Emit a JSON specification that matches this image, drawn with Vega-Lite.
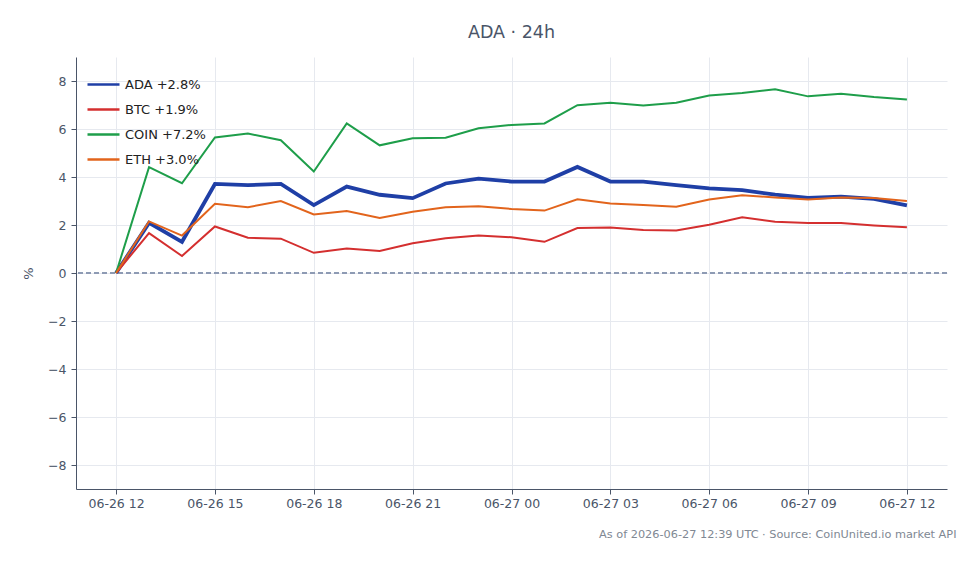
{
  "$schema": "https://vega.github.io/schema/vega-lite/v6.json",
  "autosize": {"type": "fit", "contains": "padding"},
  "width": 980,
  "height": 564,
  "padding": {"left": 22, "top": 23, "right": 32, "bottom": 24},
  "config": {
    "font": "DejaVu Sans",
    "view": {"stroke": null},
    "axis": {"grid": true, "gridColor": "#e6e9ef"}
  },
  "title": {
    "text": "ADA · 24h",
    "anchor": "middle",
    "fontSize": 17.5,
    "fontWeight": "normal",
    "color": "#4a5568",
    "offset": 16
  },
  "data": {"values": [
      {"t": "2026-06-26T12:00:00Z", "s": "ADA +2.8%", "v": 0},
      {"t": "2026-06-26T13:00:00Z", "s": "ADA +2.8%", "v": 2.09},
      {"t": "2026-06-26T14:00:00Z", "s": "ADA +2.8%", "v": 1.3},
      {"t": "2026-06-26T15:00:00Z", "s": "ADA +2.8%", "v": 3.71},
      {"t": "2026-06-26T16:00:00Z", "s": "ADA +2.8%", "v": 3.66},
      {"t": "2026-06-26T17:00:00Z", "s": "ADA +2.8%", "v": 3.71},
      {"t": "2026-06-26T18:00:00Z", "s": "ADA +2.8%", "v": 2.83},
      {"t": "2026-06-26T19:00:00Z", "s": "ADA +2.8%", "v": 3.6},
      {"t": "2026-06-26T20:00:00Z", "s": "ADA +2.8%", "v": 3.26},
      {"t": "2026-06-26T21:00:00Z", "s": "ADA +2.8%", "v": 3.12},
      {"t": "2026-06-26T22:00:00Z", "s": "ADA +2.8%", "v": 3.73},
      {"t": "2026-06-26T23:00:00Z", "s": "ADA +2.8%", "v": 3.93},
      {"t": "2026-06-27T00:00:00Z", "s": "ADA +2.8%", "v": 3.81},
      {"t": "2026-06-27T01:00:00Z", "s": "ADA +2.8%", "v": 3.81},
      {"t": "2026-06-27T02:00:00Z", "s": "ADA +2.8%", "v": 4.42},
      {"t": "2026-06-27T03:00:00Z", "s": "ADA +2.8%", "v": 3.81},
      {"t": "2026-06-27T04:00:00Z", "s": "ADA +2.8%", "v": 3.81},
      {"t": "2026-06-27T05:00:00Z", "s": "ADA +2.8%", "v": 3.66},
      {"t": "2026-06-27T06:00:00Z", "s": "ADA +2.8%", "v": 3.53},
      {"t": "2026-06-27T07:00:00Z", "s": "ADA +2.8%", "v": 3.45},
      {"t": "2026-06-27T08:00:00Z", "s": "ADA +2.8%", "v": 3.27},
      {"t": "2026-06-27T09:00:00Z", "s": "ADA +2.8%", "v": 3.13},
      {"t": "2026-06-27T10:00:00Z", "s": "ADA +2.8%", "v": 3.18},
      {"t": "2026-06-27T11:00:00Z", "s": "ADA +2.8%", "v": 3.09},
      {"t": "2026-06-27T12:00:00Z", "s": "ADA +2.8%", "v": 2.82},
      {"t": "2026-06-26T12:00:00Z", "s": "BTC +1.9%", "v": 0},
      {"t": "2026-06-26T13:00:00Z", "s": "BTC +1.9%", "v": 1.66},
      {"t": "2026-06-26T14:00:00Z", "s": "BTC +1.9%", "v": 0.71},
      {"t": "2026-06-26T15:00:00Z", "s": "BTC +1.9%", "v": 1.94},
      {"t": "2026-06-26T16:00:00Z", "s": "BTC +1.9%", "v": 1.47},
      {"t": "2026-06-26T17:00:00Z", "s": "BTC +1.9%", "v": 1.43},
      {"t": "2026-06-26T18:00:00Z", "s": "BTC +1.9%", "v": 0.84},
      {"t": "2026-06-26T19:00:00Z", "s": "BTC +1.9%", "v": 1.02},
      {"t": "2026-06-26T20:00:00Z", "s": "BTC +1.9%", "v": 0.92},
      {"t": "2026-06-26T21:00:00Z", "s": "BTC +1.9%", "v": 1.24},
      {"t": "2026-06-26T22:00:00Z", "s": "BTC +1.9%", "v": 1.45},
      {"t": "2026-06-26T23:00:00Z", "s": "BTC +1.9%", "v": 1.56},
      {"t": "2026-06-27T00:00:00Z", "s": "BTC +1.9%", "v": 1.49},
      {"t": "2026-06-27T01:00:00Z", "s": "BTC +1.9%", "v": 1.3},
      {"t": "2026-06-27T02:00:00Z", "s": "BTC +1.9%", "v": 1.87},
      {"t": "2026-06-27T03:00:00Z", "s": "BTC +1.9%", "v": 1.9},
      {"t": "2026-06-27T04:00:00Z", "s": "BTC +1.9%", "v": 1.79},
      {"t": "2026-06-27T05:00:00Z", "s": "BTC +1.9%", "v": 1.77},
      {"t": "2026-06-27T06:00:00Z", "s": "BTC +1.9%", "v": 2.01},
      {"t": "2026-06-27T07:00:00Z", "s": "BTC +1.9%", "v": 2.32},
      {"t": "2026-06-27T08:00:00Z", "s": "BTC +1.9%", "v": 2.14},
      {"t": "2026-06-27T09:00:00Z", "s": "BTC +1.9%", "v": 2.08},
      {"t": "2026-06-27T10:00:00Z", "s": "BTC +1.9%", "v": 2.08},
      {"t": "2026-06-27T11:00:00Z", "s": "BTC +1.9%", "v": 1.98},
      {"t": "2026-06-27T12:00:00Z", "s": "BTC +1.9%", "v": 1.91},
      {"t": "2026-06-26T12:00:00Z", "s": "COIN +7.2%", "v": 0},
      {"t": "2026-06-26T13:00:00Z", "s": "COIN +7.2%", "v": 4.41},
      {"t": "2026-06-26T14:00:00Z", "s": "COIN +7.2%", "v": 3.74},
      {"t": "2026-06-26T15:00:00Z", "s": "COIN +7.2%", "v": 5.65},
      {"t": "2026-06-26T16:00:00Z", "s": "COIN +7.2%", "v": 5.81},
      {"t": "2026-06-26T17:00:00Z", "s": "COIN +7.2%", "v": 5.53},
      {"t": "2026-06-26T18:00:00Z", "s": "COIN +7.2%", "v": 4.23},
      {"t": "2026-06-26T19:00:00Z", "s": "COIN +7.2%", "v": 6.23},
      {"t": "2026-06-26T20:00:00Z", "s": "COIN +7.2%", "v": 5.32},
      {"t": "2026-06-26T21:00:00Z", "s": "COIN +7.2%", "v": 5.61},
      {"t": "2026-06-26T22:00:00Z", "s": "COIN +7.2%", "v": 5.64},
      {"t": "2026-06-26T23:00:00Z", "s": "COIN +7.2%", "v": 6.03},
      {"t": "2026-06-27T00:00:00Z", "s": "COIN +7.2%", "v": 6.17},
      {"t": "2026-06-27T01:00:00Z", "s": "COIN +7.2%", "v": 6.23},
      {"t": "2026-06-27T02:00:00Z", "s": "COIN +7.2%", "v": 6.99},
      {"t": "2026-06-27T03:00:00Z", "s": "COIN +7.2%", "v": 7.09},
      {"t": "2026-06-27T04:00:00Z", "s": "COIN +7.2%", "v": 6.98},
      {"t": "2026-06-27T05:00:00Z", "s": "COIN +7.2%", "v": 7.09},
      {"t": "2026-06-27T06:00:00Z", "s": "COIN +7.2%", "v": 7.4},
      {"t": "2026-06-27T07:00:00Z", "s": "COIN +7.2%", "v": 7.5},
      {"t": "2026-06-27T08:00:00Z", "s": "COIN +7.2%", "v": 7.66},
      {"t": "2026-06-27T09:00:00Z", "s": "COIN +7.2%", "v": 7.36},
      {"t": "2026-06-27T10:00:00Z", "s": "COIN +7.2%", "v": 7.47},
      {"t": "2026-06-27T11:00:00Z", "s": "COIN +7.2%", "v": 7.33},
      {"t": "2026-06-27T12:00:00Z", "s": "COIN +7.2%", "v": 7.23},
      {"t": "2026-06-26T12:00:00Z", "s": "ETH +3.0%", "v": 0},
      {"t": "2026-06-26T13:00:00Z", "s": "ETH +3.0%", "v": 2.15},
      {"t": "2026-06-26T14:00:00Z", "s": "ETH +3.0%", "v": 1.56},
      {"t": "2026-06-26T15:00:00Z", "s": "ETH +3.0%", "v": 2.88},
      {"t": "2026-06-26T16:00:00Z", "s": "ETH +3.0%", "v": 2.74},
      {"t": "2026-06-26T17:00:00Z", "s": "ETH +3.0%", "v": 3.0},
      {"t": "2026-06-26T18:00:00Z", "s": "ETH +3.0%", "v": 2.44},
      {"t": "2026-06-26T19:00:00Z", "s": "ETH +3.0%", "v": 2.58},
      {"t": "2026-06-26T20:00:00Z", "s": "ETH +3.0%", "v": 2.29},
      {"t": "2026-06-26T21:00:00Z", "s": "ETH +3.0%", "v": 2.55},
      {"t": "2026-06-26T22:00:00Z", "s": "ETH +3.0%", "v": 2.74},
      {"t": "2026-06-26T23:00:00Z", "s": "ETH +3.0%", "v": 2.78},
      {"t": "2026-06-27T00:00:00Z", "s": "ETH +3.0%", "v": 2.67},
      {"t": "2026-06-27T01:00:00Z", "s": "ETH +3.0%", "v": 2.6},
      {"t": "2026-06-27T02:00:00Z", "s": "ETH +3.0%", "v": 3.07},
      {"t": "2026-06-27T03:00:00Z", "s": "ETH +3.0%", "v": 2.9},
      {"t": "2026-06-27T04:00:00Z", "s": "ETH +3.0%", "v": 2.83},
      {"t": "2026-06-27T05:00:00Z", "s": "ETH +3.0%", "v": 2.76},
      {"t": "2026-06-27T06:00:00Z", "s": "ETH +3.0%", "v": 3.06},
      {"t": "2026-06-27T07:00:00Z", "s": "ETH +3.0%", "v": 3.24},
      {"t": "2026-06-27T08:00:00Z", "s": "ETH +3.0%", "v": 3.15},
      {"t": "2026-06-27T09:00:00Z", "s": "ETH +3.0%", "v": 3.06},
      {"t": "2026-06-27T10:00:00Z", "s": "ETH +3.0%", "v": 3.15},
      {"t": "2026-06-27T11:00:00Z", "s": "ETH +3.0%", "v": 3.13},
      {"t": "2026-06-27T12:00:00Z", "s": "ETH +3.0%", "v": 3.0}
  ]},
  "layer": [
    {
      "mark": {"type": "rule", "color": "#8d9ab3", "strokeWidth": 1, "strokeDash": [5, 3]},
      "encoding": {
        "y": {"datum": 0, "type": "quantitative"}
      }
    },
    {
      "mark": {"type": "line"},
      "encoding": {
        "x": {
          "field": "t",
          "type": "temporal",
          "scale": {
            "type": "utc",
            "domain": [1782470820000, 1782565980000]
          },
          "axis": {
            "format": "%m-%d %H",
            "values": [1782475200000, 1782486000000, 1782496800000, 1782507600000, 1782518400000, 1782529200000, 1782540000000, 1782550800000, 1782561600000],
            "labelFontSize": 12.5,
            "labelColor": "#4a5568",
            "labelPadding": 3,
            "tickColor": "#4a5568",
            "tickSize": 5,
            "domainColor": "#4a5568",
            "grid": true,
            "title": "As of 2026-06-27 12:39 UTC · Source: CoinUnited.io market API",
            "titleFontSize": 11.3,
            "titleFontWeight": "normal",
            "titleColor": "#808893",
            "titleAnchor": "end",
            "titleAlign": "right",
            "titleX": 880,
            "titlePadding": 19
          }
        },
        "y": {
          "field": "v",
          "type": "quantitative",
          "scale": {"domain": [-9, 9], "nice": false, "zero": false},
          "axis": {
            "values": [-8, -6, -4, -2, 0, 2, 4, 6, 8],
            "grid": true,
            "labelFontSize": 12.5,
            "labelColor": "#4a5568",
            "labelPadding": 5,
            "tickColor": "#4a5568",
            "tickSize": 5,
            "domainColor": "#4a5568",
            "title": "%",
            "titleFontSize": 13,
            "titleFontWeight": "normal",
            "titleColor": "#4a5568",
            "titlePadding": 12
          }
        },
        "color": {
          "field": "s",
          "type": "nominal",
          "scale": {
            "domain": ["ADA +2.8%", "BTC +1.9%", "COIN +7.2%", "ETH +3.0%"],
            "range": ["#1f3fa6", "#d42f2f", "#1e9e4a", "#e2641c"]
          },
          "legend": {
            "title": null,
            "orient": "top-left",
            "offset": 10,
            "symbolType": "stroke",
            "symbolSize": 1024,
            "symbolStrokeWidth": 2.5,
            "labelFontSize": 13,
            "labelColor": "#222222",
            "labelOffset": 4,
            "rowPadding": -4
          }
        },
        "strokeWidth": {
          "condition": {"test": "datum.s === 'ADA +2.8%'", "value": 3.8},
          "value": 2
        }
      }
    }
  ]
}
